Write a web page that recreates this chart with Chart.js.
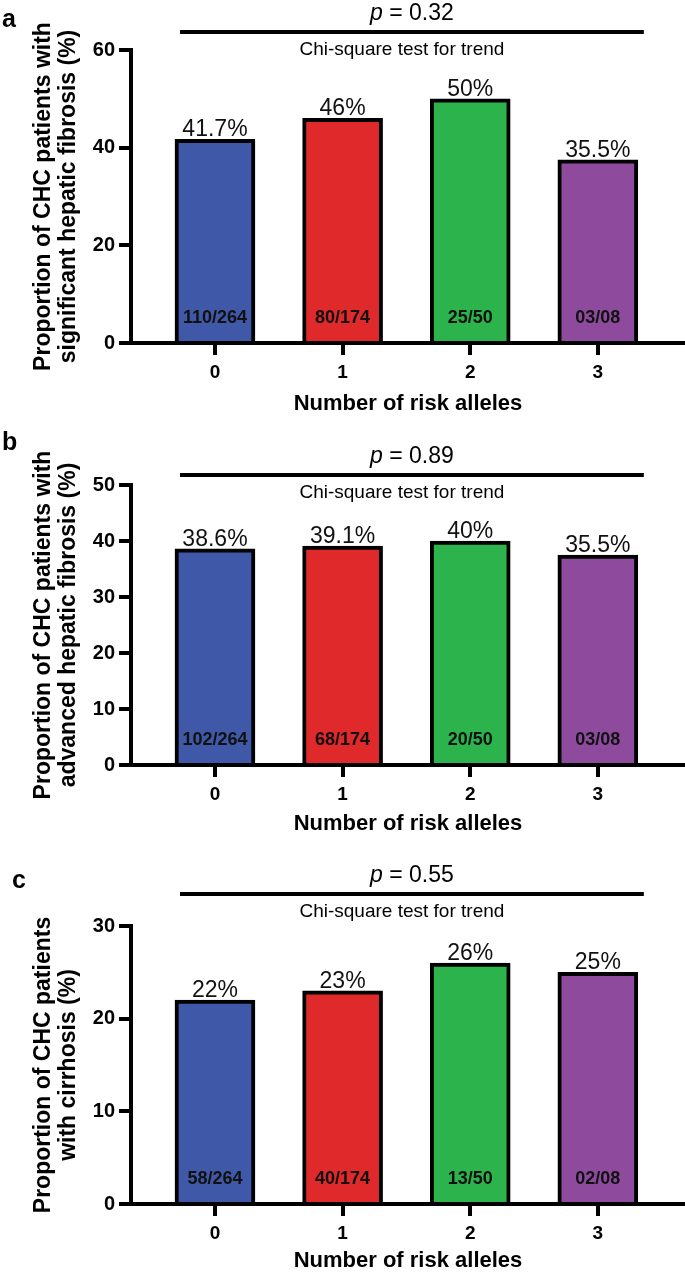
<!DOCTYPE html>
<html>
<head>
<meta charset="utf-8">
<script src="https://cdn.jsdelivr.net/npm/chart.js@4/dist/chart.umd.min.js"></script>
<style>
  body { margin: 0; background: #fff; }
  .panel { position: absolute; left: 0; width: 685px; }
  canvas { display: block; }
</style>
</head>
<body>
<div class="panel" style="top:0px"><canvas id="chart-a" width="685" height="420"></canvas></div>
<div class="panel" style="top:420px"><canvas id="chart-b" width="685" height="420"></canvas></div>
<div class="panel" style="top:840px"><canvas id="chart-c" width="685" height="437"></canvas></div>
<script>
// categories
const alleles = ['0', '1', '2', '3'];

// a: significant hepatic fibrosis
const significantValues = [41.7, 46, 50, 37.5];
const significantLabels = ['41.7%', '46%', '50%', '35.5%'];
const significantCounts = ['110/264', '80/174', '25/50', '03/08'];

// b: advanced hepatic fibrosis
const advancedValues = [38.6, 39.1, 40, 37.5];
const advancedLabels = ['38.6%', '39.1%', '40%', '35.5%'];
const advancedCounts = ['102/264', '68/174', '20/50', '03/08'];

// c: cirrhosis
const cirrhosisValues = [22, 23, 26, 25];
const cirrhosisLabels = ['22%', '23%', '26%', '25%'];
const cirrhosisCounts = ['58/264', '40/174', '13/50', '02/08'];

const pValues = ['0.32', '0.89', '0.55'];
const yMaxes = [60, 50, 30];
const ySteps = [20, 10, 10];

const barColors = ['#4058a8', '#e0292b', '#2db34b', '#8e4b9e'];
const FONT = '"Liberation Sans", Arial, Helvetica, sans-serif';

function panelPlugin(panel) {
    return {
        id: 'panelText' + panel.letter,
        afterDraw(chart) {
            const ctx = chart.ctx;
            const bars = chart.getDatasetMeta(0).data;
            ctx.save();
            ctx.fillStyle = '#111';

            // value labels on top, counts inside the bars
            bars.forEach((bar, i) => {
                ctx.textAlign = 'center';
                ctx.textBaseline = 'alphabetic';
                ctx.font = '23px ' + FONT;
                ctx.fillText(panel.labels[i], bar.x, bar.y - 3);
                ctx.font = 'bold 18px ' + FONT;
                ctx.textBaseline = 'middle';
                ctx.fillText(panel.counts[i], bar.x, bar.base - 23);
            });

            // panel letter
            ctx.fillStyle = '#000';
            ctx.textAlign = 'left';
            ctx.textBaseline = 'alphabetic';
            ctx.font = 'bold 25px ' + FONT;
            ctx.fillText(panel.letter, panel.letterX, panel.letterY);

            // trend line with p value
            const first = bars[0], last = bars[bars.length - 1];
            const x1 = first.x - 35;
            const x2 = last.x + 46;
            const ly = chart.chartArea.top - panel.lineGap;
            ctx.strokeStyle = '#000';
            ctx.lineWidth = 4;
            ctx.beginPath();
            ctx.moveTo(x1, ly);
            ctx.lineTo(x2, ly);
            ctx.stroke();

            const mid = (x1 + x2) / 2;
            ctx.font = 'italic 23px ' + FONT;
            const wp = ctx.measureText('p').width;
            ctx.font = '23px ' + FONT;
            const rest = ' = ' + panel.p;
            const wr = ctx.measureText(rest).width;
            let sx = mid - (wp + wr) / 2;
            ctx.font = 'italic 23px ' + FONT;
            ctx.fillText('p', sx, ly - 12);
            ctx.font = '23px ' + FONT;
            ctx.fillText(rest, sx + wp, ly - 12);

            ctx.textAlign = 'center';
            ctx.font = '19px ' + FONT;
            ctx.fillText('Chi-square test for trend', mid - 10, ly + 23);
            ctx.restore();
        }
    };
}

function makeChart(id, panel) {
    const ctx = document.getElementById(id).getContext('2d');
    return new Chart(ctx, {
        type: 'bar',
        data: {
            datasets: [{
                data: panel.values.map((v, i) => ({ x: i, y: v })),
                backgroundColor: barColors,
                borderColor: '#000',
                borderWidth: 4,
                barThickness: 80
            }]
        },
        options: {
            responsive: false,
            maintainAspectRatio: false,
            animation: false,
            layout: { padding: { top: panel.top, left: 0, right: 0, bottom: 0 } },
            plugins: {
                legend: { display: false },
                tooltip: { enabled: false }
            },
            scales: {
                x: {
                    type: 'linear',
                    offset: false,
                    min: -0.658,
                    max: 3.683,
                    afterBuildTicks: (scale) => {
                        scale.ticks = alleles.map((a, i) => ({ value: i }));
                    },
                    ticks: {
                        callback: (value) => alleles[value],
                        color: '#000',
                        font: { family: FONT, size: 19, weight: 'bold' },
                        padding: 6,
                        maxRotation: 0,
                        autoSkip: false
                    },
                    grid: { drawOnChartArea: false, tickLength: 12, lineWidth: 4, color: '#000', offset: false },
                    border: { width: 4, color: '#000', z: 1 },
                    title: {
                        display: true,
                        text: 'Number of risk alleles',
                        color: '#000',
                        font: { family: FONT, size: 22, weight: 'bold' },
                        padding: { top: 0, bottom: 3 }
                    },
                    afterFit: (scale) => { scale.height = panel.xHeight; }
                },
                y: {
                    min: 0,
                    max: panel.yMax,
                    ticks: {
                        stepSize: panel.yStep,
                        color: '#000',
                        font: { family: FONT, size: 20, weight: 'bold' },
                        padding: 4
                    },
                    grid: { drawOnChartArea: false, tickLength: 12, lineWidth: 4, color: '#000' },
                    border: { width: 4, color: '#000', z: 1 },
                    title: {
                        display: true,
                        text: panel.yTitle,
                        color: '#000',
                        font: { family: FONT, size: 23, weight: 'bold', lineHeight: '25px' },
                        padding: { top: 31, bottom: 0 }
                    },
                    afterFit: (scale) => { scale.width = 131; }
                }
            }
        },
        plugins: [panelPlugin(panel)]
    });
}

makeChart('chart-a', {
    letter: 'a', letterX: 2, letterY: 27,
    values: significantValues, labels: significantLabels, counts: significantCounts,
    p: pValues[0], yMax: yMaxes[0], yStep: ySteps[0],
    yTitle: ['Proportion of CHC patients with', 'significant hepatic fibrosis (%)'],
    top: 50, xHeight: 77, lineGap: 18
});

makeChart('chart-b', {
    letter: 'b', letterX: 2, letterY: 30,
    values: advancedValues, labels: advancedLabels, counts: advancedCounts,
    p: pValues[1], yMax: yMaxes[1], yStep: ySteps[1],
    yTitle: ['Proportion of CHC patients with', 'advanced hepatic fibrosis (%)'],
    top: 65, xHeight: 75, lineGap: 10
});

makeChart('chart-c', {
    letter: 'c', letterX: 12, letterY: 48,
    values: cirrhosisValues, labels: cirrhosisLabels, counts: cirrhosisCounts,
    p: pValues[2], yMax: yMaxes[2], yStep: ySteps[2],
    yTitle: ['Proportion of CHC patients', 'with cirrhosis (%)'],
    top: 86, xHeight: 73, lineGap: 32
});
</script>
</body>
</html>
